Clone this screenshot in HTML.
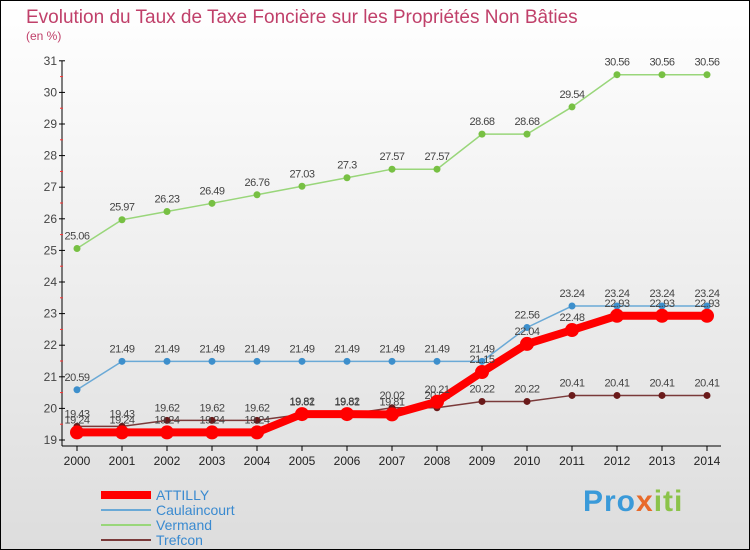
<!DOCTYPE html>
<html><head><meta charset="utf-8"><style>
body{margin:0}
#c{width:748px;height:548px;border:1px solid #000;background:linear-gradient(#fff,#ddd);position:relative;font-family:"Liberation Sans",sans-serif;overflow:hidden}
</style></head><body>
<div id="c">
<svg id="s" width="748" height="548">
<text x="25" y="22" font-size="19" fill="#c0406a">Evolution du Taux de Taxe Foncière sur les Propriétés Non Bâties</text>
<text x="25" y="39" font-size="12" fill="#c0406a">(en %)</text>
</svg>
<div style="position:absolute;left:582px;top:484px;font-size:30px;font-weight:bold;color:#3a9ad9;letter-spacing:1px">Pro<span style="color:#e86a2a">x</span><span style="color:#8bc34a">iti</span></div>
</div>
<script>
const years=[2000,2001,2002,2003,2004,2005,2006,2007,2008,2009,2010,2011,2012,2013,2014];
const yTicks=[19,20,21,22,23,24,25,26,27,28,29,30,31];
const attilly=[19.24,19.24,19.24,19.24,19.24,19.82,19.82,19.81,20.21,21.15,22.04,22.48,22.93,22.93,22.93];
const caulaincourt=[20.59,21.49,21.49,21.49,21.49,21.49,21.49,21.49,21.49,21.49,22.56,23.24,23.24,23.24,23.24];
const vermand=[25.06,25.97,26.23,26.49,26.76,27.03,27.3,27.57,27.57,28.68,28.68,29.54,30.56,30.56,30.56];
const trefcon=[19.43,19.43,19.62,19.62,19.62,19.81,19.81,20.02,20.02,20.22,20.22,20.41,20.41,20.41,20.41];
const s=document.getElementById('s');const NS='http://www.w3.org/2000/svg';
const X=i=>76+i*45, Y=v=>439-(v-19)*31.6;
function el(t,a,n){const e=document.createElementNS(NS,t);for(const k in a)e.setAttribute(k,a[k]);


s.appendChild(e);return e;}
el('line',{x1:61,y1:60,x2:61,y2:445,stroke:'#000'},'y-axis');
el('line',{x1:61,y1:445,x2:720,y2:445,stroke:'#000'},'x-axis');
yTicks.forEach(v=>{el('line',{x1:58,y1:Y(v),x2:64,y2:Y(v),stroke:'#000'},'y-tick');
if(v<31)el('line',{x1:59,y1:Y(v+0.5),x2:62,y2:Y(v+0.5),stroke:'#f33'},'y-minor-tick');
const t=el('text',{x:56,y:Y(v)+4,'font-size':12,fill:'#444','text-anchor':'end'},'y-tick-label');t.textContent=v;});
years.forEach((y,i)=>{el('line',{x1:X(i),y1:445,x2:X(i),y2:450,stroke:'#000'},'x-tick');
const t=el('text',{x:X(i),y:464,'font-size':12,fill:'#222','text-anchor':'middle'},'x-tick-label');t.textContent=y;});
function series(d,col,w,r,n,dot,lblOff){
el('polyline',{points:d.map((v,i)=>X(i)+','+Y(v)).join(' '),fill:'none',stroke:col,'stroke-width':w},n+'-line');
d.forEach((v,i)=>{el('circle',{cx:X(i),cy:Y(v),r:r,fill:dot},n+'-point');
const t=el('text',{x:X(i),y:Y(v)+lblOff,'font-size':11,fill:'#444','text-anchor':'middle','letter-spacing':'-0.5'},n+'-value');t.textContent=v;});}
series(vermand,'#99d67a',1.5,3.5,'vermand','#77c043',-9);
series(caulaincourt,'#6aa9d6',1.5,3.5,'caulaincourt','#3d8fcc',-9);
series(trefcon,'#7a3a3a',1.5,3.5,'trefcon','#6a1a1a',-9);
series(attilly,'#f00',8,7,'attilly','#f00',-9);
const leg=[['ATTILLY','#f00',8],['Caulaincourt','#6aa9d6',2],['Vermand','#99d67a',2],['Trefcon','#7a3a3a',2]];
leg.forEach((l,i)=>{const y=494+i*15;el('line',{x1:100,y1:y,x2:150,y2:y,stroke:l[1],'stroke-width':l[2]},'legend-swatch');
const t=el('text',{x:155,y:y+5,'font-size':14,fill:'#3a8ad0'},'legend-entry');t.textContent=l[0];});
</script>
</body></html>
